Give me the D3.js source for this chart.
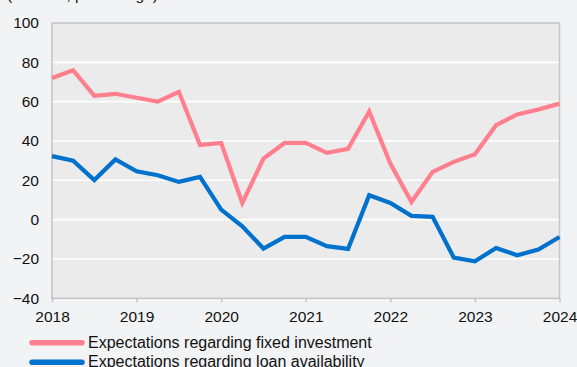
<!DOCTYPE html>
<html>
<head>
<meta charset="utf-8">
<script src="https://cdn.jsdelivr.net/npm/d3@7"></script>
<style>
  html, body { margin: 0; padding: 0; background: #f2f3f5; }
  svg { display: block; font-family: "Liberation Sans", Arial, sans-serif; }
</style>
</head>
<body>
<svg id="chart" width="577" height="367"></svg>
<script>
// Quarterly survey balances, 2018 Q1 – 2024 Q1
const quarters = d3.range(25).map(i => 2018 + i / 4);
const fixedInvestment = [72, 76, 63, 64, 62, 60, 65, 38, 39, 8.5, 31, 39, 39,
                         34, 36, 55, 28.5, 9, 24.3, 29.4, 33.3, 48, 53.5, 56, 59];
const loanAvailability = [32.3, 30, 20.1, 30.6, 24.6, 22.6, 19.2, 21.7, 5.1, -3.4, -14.7, -8.8, -8.8,
                          -13.5, -14.9, 12.4, 8.5, 1.9, 1.4, -19.3, -21.2, -14.4, -18.1, -15.2, -8.8];
const yearTicks = [2018, 2019, 2020, 2021, 2022, 2023, 2024];
const valueTicks = [-40, -20, 0, 20, 40, 60, 80, 100];
const seriesNames = ["Expectations regarding fixed investment", "Expectations regarding loan availability"];
const seriesColors = ["#ff7f8e", "#0071cc"];

const svg = d3.select("#chart");
const plotLeft = 52, plotRight = 559.5, plotTop = 23, plotBottom = 298.3;

const x = d3.scaleLinear().domain([2018, 2024]).range([plotLeft, plotRight]);
const y = d3.scaleLinear().domain([-40, 100]).range([plotBottom, plotTop]);

// Plot background
svg.append("rect")
  .attr("x", plotLeft).attr("y", plotTop)
  .attr("width", plotRight - plotLeft).attr("height", plotBottom - plotTop)
  .attr("fill", "#ebebeb");

// Horizontal gridlines
svg.append("g")
  .selectAll("line")
  .data(valueTicks.filter(v => v > -40 && v < 100))
  .join("line")
  .attr("x1", plotLeft).attr("x2", plotRight)
  .attr("y1", d => y(d)).attr("y2", d => y(d))
  .attr("stroke", "#ffffff").attr("stroke-width", 1.6);

// Frame
svg.append("rect")
  .attr("x", plotLeft).attr("y", plotTop)
  .attr("width", plotRight - plotLeft).attr("height", plotBottom - plotTop)
  .attr("fill", "none").attr("stroke", "#c4c4c4").attr("stroke-width", 1.5);

// X axis
const xAxis = svg.append("g")
  .attr("transform", `translate(0,${plotBottom})`)
  .call(d3.axisBottom(x).tickValues(yearTicks).tickFormat(d3.format("d")).tickSize(4).tickPadding(9));
xAxis.select(".domain").remove();
xAxis.selectAll(".tick line").attr("stroke", "#c4c4c4").attr("stroke-width", 1.5);
xAxis.selectAll(".tick text").attr("font-size", "15.5px").attr("fill", "#111").attr("font-family", "Liberation Sans, Arial, sans-serif");

// Y axis labels
const yAxis = svg.append("g")
  .attr("transform", `translate(${plotLeft},0)`)
  .call(d3.axisLeft(y).tickValues(valueTicks).tickSize(0).tickPadding(13));
yAxis.select(".domain").remove();
yAxis.selectAll(".tick text").attr("font-size", "15.5px").attr("fill", "#111").attr("font-family", "Liberation Sans, Arial, sans-serif");

// Unit label above the plot (sits mostly above the top edge)
svg.append("text")
  .attr("x", 7).attr("y", 0)
  .attr("font-size", "15.5px").attr("fill", "#111")
  .text("(balance, percentage)");

// Series lines
const line = d3.line().x((d, i) => x(quarters[i])).y(d => y(d));
[fixedInvestment, loanAvailability].forEach((vals, k) => {
  svg.append("path")
    .datum(vals)
    .attr("d", line)
    .attr("fill", "none")
    .attr("stroke", seriesColors[k])
    .attr("stroke-width", 4.2)
    .attr("stroke-linejoin", "miter")
    .attr("stroke-linecap", "butt");
});

// Legend
const legend = svg.append("g");
seriesNames.forEach((name, k) => {
  const ly = 342.7 + k * 19.5;
  legend.append("line")
    .attr("x1", 32).attr("x2", 82)
    .attr("y1", ly).attr("y2", ly)
    .attr("stroke", seriesColors[k]).attr("stroke-width", 5.5)
    .attr("stroke-linecap", "round");
  legend.append("text")
    .attr("x", 88).attr("y", ly + 5)
    .attr("font-size", "16px").attr("fill", "#111")
    .text(name);
});
</script>
</body>
</html>
